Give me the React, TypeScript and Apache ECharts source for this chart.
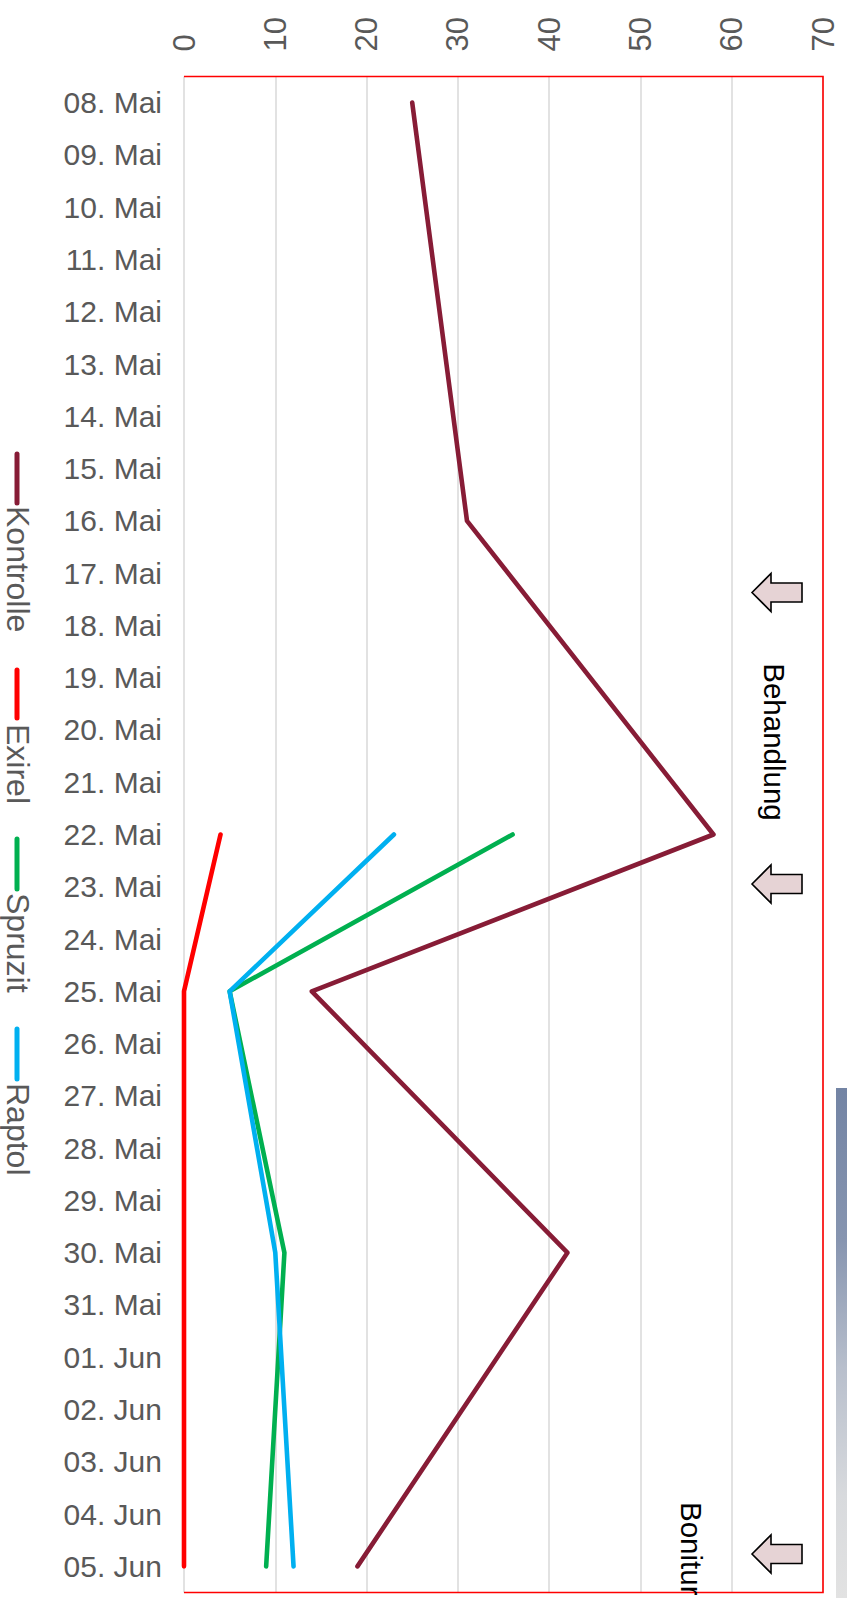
import React, { useEffect, useRef } from 'react';
import * as echarts from 'echarts';

const categories = [
  '08. Mai', '09. Mai', '10. Mai', '11. Mai', '12. Mai', '13. Mai', '14. Mai', '15. Mai',
  '16. Mai', '17. Mai', '18. Mai', '19. Mai', '20. Mai', '21. Mai', '22. Mai', '23. Mai',
  '24. Mai', '25. Mai', '26. Mai', '27. Mai', '28. Mai', '29. Mai', '30. Mai', '31. Mai',
  '01. Jun', '02. Jun', '03. Jun', '04. Jun', '05. Jun',
];

const n = null;
// values per date (null = no measurement)
const kontrolle = [25, n, n, n, n, n, n, n, 31, n, n, n, n, n, 58, n, n, 14, n, n, n, n, 42, n, n, n, n, n, 19];
const exirel = [n, n, n, n, n, n, n, n, n, n, n, n, n, n, 4, n, n, 0, n, n, n, n, 0, n, n, n, n, n, 0];
const spruzit = [n, n, n, n, n, n, n, n, n, n, n, n, n, n, 36, n, n, 5, n, n, n, n, 11, n, n, n, n, n, 9];
const raptol = [n, n, n, n, n, n, n, n, n, n, n, n, n, n, 23, n, n, 5, n, n, n, n, 10, n, n, n, n, n, 12];

const seriesNames = ['Kontrolle', 'Exirel', 'Spruzit', 'Raptol'];
const seriesColors = ['#871c36', '#ff0000', '#00b050', '#00b0f0'];
const seriesData = [kontrolle, exirel, spruzit, raptol];

const annotations = ['Behandlung', 'Bonitur'];

const FONT = '"Liberation Sans", Arial, sans-serif';

function arrow(cy: number) {
  return {
    type: 'polygon',
    z: 20,
    shape: {
      points: [
        [752, cy], [771, cy - 19], [771, cy - 9.5], [802, cy - 9.5],
        [802, cy + 9.5], [771, cy + 9.5], [771, cy + 19],
      ],
    },
    style: { fill: '#e6d3d5', stroke: '#000000', lineWidth: 1.6 },
  };
}

function vText(text: string, x: number, y: number, size: number, color: string, align = 'left') {
  return {
    type: 'text',
    x,
    y,
    z: 20,
    rotation: -Math.PI / 2,
    style: {
      text,
      fontSize: size,
      fontFamily: FONT,
      fill: color,
      align,
      textAlign: align,
      verticalAlign: 'middle',
      textVerticalAlign: 'middle',
    },
  };
}

export default function App() {
  const ref = useRef<HTMLDivElement>(null);

  useEffect(() => {
    document.body.style.margin = '0';
    if (!ref.current) return;
    const chart = echarts.init(ref.current, undefined, { renderer: 'svg' });

    const legendPos = [
      { l1: 454, l2: 503, t: 506 },
      { l1: 670, l2: 718, t: 724 },
      { l1: 839, l2: 889, t: 893 },
      { l1: 1029, l2: 1079, t: 1083 },
    ];

    const graphics: any[] = [];
    seriesNames.forEach((name, i) => {
      const p = legendPos[i];
      graphics.push({
        type: 'line',
        z: 20,
        shape: { x1: 17, y1: p.l1, x2: 17, y2: p.l2 },
        style: { stroke: seriesColors[i], lineWidth: 5, lineCap: 'round' },
      });
      graphics.push(vText(name, 17.5, p.t, 32, '#595959'));
    });

    // plot border (top, right, bottom)
    graphics.push({
      type: 'polyline',
      z: 15,
      shape: { points: [[184, 76.5], [823, 76.5], [823, 1592.5], [184, 1592.5]] },
      style: { stroke: '#ff0000', lineWidth: 1.6, fill: 'none' },
    });

    graphics.push(arrow(592.5));
    graphics.push(arrow(884));
    graphics.push(arrow(1554));
    graphics.push(vText(annotations[0], 774, 742, 29.5, '#000000', 'center'));
    graphics.push(vText(annotations[1], 691, 1502, 29.5, '#000000', 'left'));

    graphics.push({
      type: 'rect',
      z: 5,
      shape: { x: 836, y: 1088, width: 11, height: 510 },
      style: {
        fill: new echarts.graphic.LinearGradient(0, 0, 0, 1, [
          { offset: 0, color: '#7384a4' },
          { offset: 0.3, color: '#8795b0' },
          { offset: 0.55, color: '#b8bfcc' },
          { offset: 0.8, color: '#d8dadd' },
          { offset: 1, color: '#e2e2e2' },
        ]),
      },
    });

    chart.setOption({
      animation: false,
      textStyle: { fontFamily: FONT },
      grid: { left: 184, right: 24, top: 76.5, bottom: 5.5, containLabel: false },
      xAxis: {
        type: 'value',
        position: 'top',
        min: 0,
        max: 70,
        interval: 10,
        axisLine: { show: false },
        axisTick: { show: false },
        splitLine: { show: true, lineStyle: { color: '#d9d9d9', width: 1.5 } },
        axisLabel: { rotate: -90, margin: 25, color: '#595959', fontSize: 31, fontFamily: FONT },
      },
      yAxis: {
        type: 'category',
        data: categories,
        inverse: true,
        boundaryGap: true,
        axisLine: { show: false },
        axisTick: { show: false },
        splitLine: { show: false },
        axisLabel: { interval: 0, margin: 22, color: '#595959', fontSize: 30, fontFamily: FONT },
      },
      series: seriesNames.map((name, i) => ({
        name,
        type: 'line',
        data: seriesData[i],
        connectNulls: true,
        showSymbol: false,
        symbol: 'none',
        lineStyle: { color: seriesColors[i], width: 4.6, cap: 'round', join: 'round' },
        itemStyle: { color: seriesColors[i] },
        emphasis: { disabled: true },
        z: 3 + i,
      })),
      graphic: graphics,
    });

    return () => chart.dispose();
  }, []);

  return (
    <div
      ref={ref}
      style={{ position: 'fixed', left: 0, top: 0, width: 847, height: 1598, background: '#ffffff' }}
    />
  );
}
